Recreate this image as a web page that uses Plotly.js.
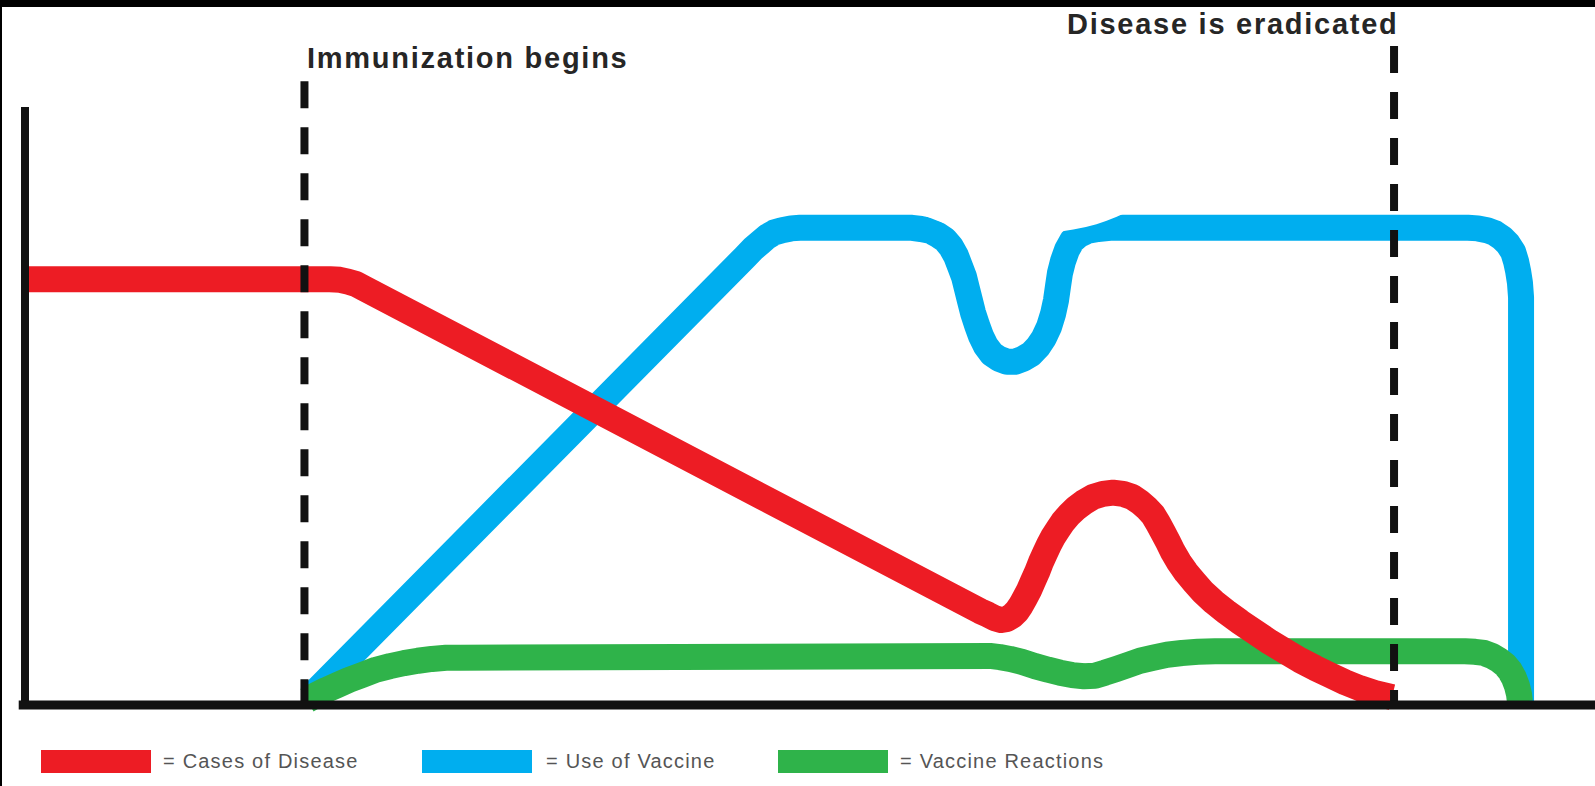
<!DOCTYPE html>
<html>
<head>
<meta charset="utf-8">
<script src="https://cdn.plot.ly/plotly-3.0.1.min.js"></script>
<style>
html, body { margin: 0; padding: 0; background: #ffffff; }
#chart { width: 1595px; height: 786px; }
text.annotation-text { letter-spacing: 0.06em; }
.scatterlayer path.js-line { stroke-linejoin: round; }
</style>
</head>
<body>
<div id="chart"></div>
<script>
// ---- Data (x = time, y = level; arbitrary units) ----
const casesX = [0, 19.43, 20.06, 20.57, 21.08, 21.59, 60.83, 61.34, 61.78, 62.17, 62.55, 62.87, 63.18, 63.44, 63.69, 63.95, 64.20, 64.46, 64.71, 64.97, 65.22, 65.48, 65.80, 66.11, 66.50, 66.94, 67.45, 68.03, 68.66, 69.30, 69.94, 70.51, 71.02, 71.46, 71.85, 72.17, 72.48, 72.80, 73.12, 73.50, 73.95, 74.46, 75.03, 75.73, 76.50, 77.39, 78.34, 79.30, 80.25, 81.21, 82.17, 83.12, 84.08, 85.03, 85.99, 87.07];
const casesY = [71.2, 71.2, 71.1, 70.8, 70.4, 69.7, 15.7, 15.1, 14.5, 14.2, 14.4, 14.9, 15.7, 16.7, 17.9, 19.2, 20.7, 22.2, 23.9, 25.4, 26.8, 28.1, 29.4, 30.6, 31.8, 32.9, 33.9, 34.8, 35.3, 35.5, 35.3, 34.8, 33.9, 32.9, 31.8, 30.4, 28.9, 27.3, 25.6, 23.9, 22.2, 20.6, 18.9, 17.2, 15.6, 13.9, 12.2, 10.5, 9.0, 7.5, 6.2, 5.0, 3.8, 2.8, 2.0, 1.3];

const vaccineX = [18.15, 45.86, 46.37, 46.82, 47.26, 47.71, 48.22, 48.79, 49.36, 56.50, 57.07, 57.64, 58.15, 58.60, 58.98, 59.30, 59.55, 59.81, 60.00, 60.19, 60.38, 60.64, 60.89, 61.21, 61.59, 62.04, 62.55, 63.06, 63.57, 64.08, 64.52, 64.90, 65.22, 65.48, 65.67, 65.80, 65.92, 66.11, 66.37, 66.69, 67.13, 67.71, 68.34, 69.11, 91.91, 92.55, 93.12, 93.63, 94.08, 94.46, 94.78, 94.97, 95.10, 95.22, 95.29, 95.29];
const vaccineY = [1.3, 74.9, 76.3, 77.3, 78.3, 79.0, 79.4, 79.7, 79.8, 79.8, 79.6, 79.3, 78.6, 77.8, 76.6, 75.1, 73.4, 71.6, 69.6, 67.6, 65.6, 63.5, 61.7, 60.0, 58.7, 57.9, 57.4, 57.4, 57.9, 58.7, 59.9, 61.4, 63.2, 65.4, 67.7, 70.1, 72.2, 74.2, 76.1, 77.6, 78.6, 79.3, 79.6, 79.8, 79.8, 79.7, 79.4, 78.9, 78.1, 77.1, 75.8, 74.2, 72.6, 70.6, 68.2, 0];

const reactionsX = [17.96, 18.54, 19.17, 19.87, 20.64, 21.46, 22.36, 23.25, 24.14, 25.03, 25.92, 26.82, 27.71, 61.46, 62.10, 62.74, 63.50, 64.33, 65.16, 65.92, 66.69, 67.45, 68.15, 68.79, 69.49, 70.25, 71.02, 71.85, 72.74, 73.69, 74.71, 75.80, 91.72, 92.36, 92.93, 93.44, 93.89, 94.27, 94.59, 94.84, 95.03, 95.16, 95.22];
const reactionsY = [0.8, 1.7, 2.5, 3.3, 4.2, 5.0, 5.9, 6.5, 7.0, 7.4, 7.7, 7.9, 7.9, 8.2, 8.0, 7.7, 7.2, 6.5, 5.9, 5.4, 5.0, 4.8, 4.9, 5.4, 6.0, 6.7, 7.4, 7.9, 8.4, 8.7, 8.9, 9.0, 9.0, 8.9, 8.7, 8.2, 7.5, 6.7, 5.7, 4.5, 3.2, 1.8, 0.5];

const eventLabels = ["Immunization begins", "Disease is eradicated"];
const eventX = [17.8, 87.2];

const legendLabels = ["= Cases of Disease", "= Use of Vaccine", "= Vaccine Reactions"];

// ---- Styling ----
const RED = "#ed1c24", BLUE = "#00aeef", GREEN = "#2fb34a";
const W = 1595, H = 786;
const px = x => x / W;          // pixel -> paper (x)
const py = y => 1 - y / H;      // pixel -> paper (y)
const LW = 26;

const lineStyle = c => ({ color: c, width: LW, shape: "linear", simplify: false });
const traces = [
  { x: vaccineX, y: vaccineY, name: "Use of Vaccine", mode: "lines", line: lineStyle(BLUE), hoverinfo: "skip" },
  { x: reactionsX, y: reactionsY, name: "Vaccine Reactions", mode: "lines", line: lineStyle(GREEN), hoverinfo: "skip" },
  { x: casesX, y: casesY, name: "Cases of Disease", mode: "lines", line: lineStyle(RED), hoverinfo: "skip" }
];

const legendColors = [RED, BLUE, GREEN];
const legendBoxX = [41, 422, 778];
const legendTextX = [161, 544, 898];

const shapes = [
  // white blotch covering the top of the vaccine line
  { type: "circle", xref: "paper", yref: "paper", layer: "above",
    x0: px(888), x1: px(1156), y0: py(234), y1: py(117),
    fillcolor: "#ffffff", line: { width: 0 } },
  // event markers (dashed)
  { type: "line", xref: "x", yref: "y", layer: "above", x0: eventX[0], x1: eventX[0], y0: 104.3, y1: 0,
    line: { color: "#111111", width: 8, dash: "27px,19px" } },
  { type: "line", xref: "x", yref: "y", layer: "above", x0: eventX[1], x1: eventX[1], y0: 110.2, y1: 0,
    line: { color: "#111111", width: 8, dash: "27px,19px" } },
  // axes
  { type: "line", xref: "x", yref: "y", layer: "above", x0: 0, x1: 0, y0: 100, y1: 0,
    line: { color: "#111111", width: 8 } },
  { type: "line", xref: "x", yref: "y", layer: "above", x0: -0.4, x1: 101, y0: 0, y1: 0,
    line: { color: "#111111", width: 9 } },
  // picture frame
  { type: "rect", xref: "paper", yref: "paper", layer: "above", x0: 0, x1: 1, y0: py(7), y1: 1,
    fillcolor: "#000000", line: { width: 0 } },
  { type: "rect", xref: "paper", yref: "paper", layer: "above", x0: 0, x1: px(2), y0: 0, y1: 1,
    fillcolor: "#000000", line: { width: 0 } }
];

legendColors.forEach((c, i) => {
  shapes.push({ type: "rect", xref: "paper", yref: "paper", layer: "above",
    x0: px(legendBoxX[i]), x1: px(legendBoxX[i] + 110), y0: py(773), y1: py(750),
    fillcolor: c, line: { width: 0 } });
});

const headFont = { family: "Liberation Sans, Arial, sans-serif", size: 29, color: "#262626", weight: 700 };
const annotations = [
  { text: eventLabels[0], xref: "paper", yref: "paper", x: px(305), y: py(58),
    xanchor: "left", yanchor: "middle", showarrow: false, font: headFont },
  { text: eventLabels[1], xref: "paper", yref: "paper", x: px(1401), y: py(24),
    xanchor: "right", yanchor: "middle", showarrow: false, font: headFont }
];
legendLabels.forEach((t, i) => {
  annotations.push({ text: t, xref: "paper", yref: "paper", x: px(legendTextX[i]), y: py(761),
    xanchor: "left", yanchor: "middle", showarrow: false,
    font: { family: "Liberation Sans, Arial, sans-serif", size: 20, color: "#555555" } });
});

const layout = {
  width: W, height: H,
  margin: { l: 0, r: 0, t: 0, b: 0, pad: 0 },
  paper_bgcolor: "#ffffff", plot_bgcolor: "#ffffff",
  showlegend: false,
  xaxis: { range: [-1.5924, 100], showgrid: false, zeroline: false, showticklabels: false, showline: false, ticks: "" },
  yaxis: { range: [-13.545, 117.893], showgrid: false, zeroline: false, showticklabels: false, showline: false, ticks: "" },
  shapes: shapes,
  annotations: annotations
};

Plotly.newPlot("chart", traces, layout, { displayModeBar: false, staticPlot: true });
</script>
</body>
</html>
